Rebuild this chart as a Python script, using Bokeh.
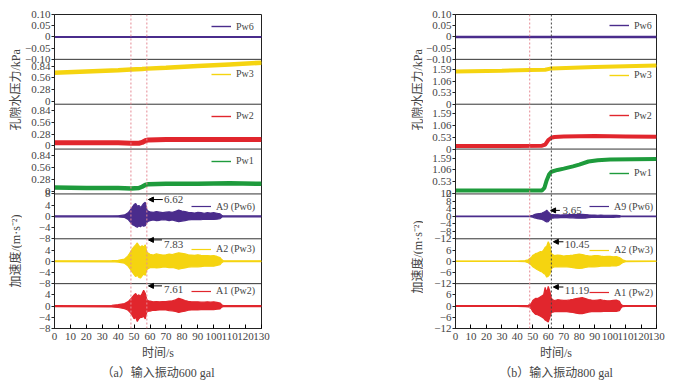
import math
from bokeh.plotting import figure
from bokeh.models import Range1d, FixedTicker, Span, Legend, LegendItem, Arrow, NormalHead, Label, Title
from bokeh.layouts import row
from bokeh.embed import file_html
from bokeh.resources import INLINE

SERIF = "Liberation Serif"
MIXED = "Liberation Serif, Noto Sans CJK SC"

# ---------------- data ----------------
X_TICKS = list(range(0, 131, 10))

# (a) 600 gal : pore water pressure (kPa)
a_pw6_t = [0, 40, 80, 130]
a_pw6_v = [0.0, 0.0, 0.0, 0.0]
a_pw3_t = [0, 20, 40, 48, 55, 58, 70, 90, 110, 130]
a_pw3_v = [0.68, 0.71, 0.74, 0.76, 0.77, 0.78, 0.80, 0.84, 0.88, 0.92]
a_pw2_t = [0, 20, 40, 48, 53, 55, 57, 59, 70, 90, 110, 130]
a_pw2_v = [0.07, 0.07, 0.07, 0.06, 0.06, 0.08, 0.12, 0.14, 0.15, 0.15, 0.15, 0.15]
a_pw1_t = [0, 20, 40, 48, 53, 55, 57, 59, 70, 90, 110, 130]
a_pw1_v = [0.09, 0.08, 0.08, 0.07, 0.08, 0.11, 0.15, 0.17, 0.18, 0.18, 0.19, 0.18]

# (a) 600 gal : acceleration envelopes (m/s^2)
a_acc_t = [0, 36, 40, 44, 46, 47, 48, 49, 50, 51, 52, 53, 54, 55, 56, 57, 58, 59, 60,
           62, 64, 66, 68, 70, 72, 74, 76, 78, 80, 82, 84, 86, 88, 90, 92, 94, 96, 98, 100, 102, 104,
           105, 106, 108, 130]
a_a9_up = [0.15, 0.15, 0.2, 0.5, 1.2, 1.8, 2.6, 3.4, 4.2, 4.6, 3.6, 3.9, 3.2, 3.8, 4.6, 5.0, 2.4, 1.8, 1.6,
           1.4, 1.7, 1.5, 1.3, 1.5, 1.6, 1.4, 1.8, 2.2, 1.9, 1.7, 1.4, 1.3, 1.2, 1.4, 1.3, 1.1, 1.3, 1.2, 1.3, 1.1, 0.9,
           0.4, 0.15, 0.15, 0.15]
a_a9_lo = [-0.15, -0.15, -0.2, -0.4, -1.0, -1.6, -2.3, -3.0, -3.2, -3.6, -3.9, -3.4, -3.7, -3.2, -3.5, -3.3, -2.2, -1.7, -1.5,
           -1.3, -1.5, -1.4, -1.2, -1.3, -1.5, -1.3, -1.6, -1.9, -1.7, -1.5, -1.3, -1.2, -1.1, -1.2, -1.2, -1.0, -1.1, -1.1, -1.1, -1.0, -0.8,
           -0.3, -0.15, -0.15, -0.15]
a_a2_up = [0.15, 0.2, 0.3, 0.8, 1.8, 2.6, 3.5, 4.5, 5.2, 5.8, 6.5, 5.5, 5.0, 5.5, 5.0, 5.8, 3.2, 2.8, 2.5,
           2.2, 2.6, 2.4, 2.2, 2.3, 2.5, 2.4, 2.7, 3.0, 2.8, 2.6, 2.3, 2.2, 2.1, 2.3, 2.1, 2.0, 2.0, 1.9, 2.0, 1.7, 1.3,
           0.6, 0.2, 0.15, 0.15]
a_a2_lo = [-0.15, -0.2, -0.3, -0.7, -1.6, -2.4, -3.2, -4.0, -4.8, -5.5, -5.0, -5.8, -6.0, -5.2, -4.6, -5.0, -3.0, -2.6, -2.3,
           -2.2, -2.4, -2.3, -2.1, -2.1, -2.3, -2.2, -2.5, -2.8, -2.6, -2.4, -2.1, -2.0, -2.0, -2.0, -1.9, -1.8, -1.8, -1.8, -1.8, -1.5, -1.2,
           -0.5, -0.2, -0.15, -0.15]
a_a1_up = [0.2, 0.3, 0.5, 0.9, 1.5, 2.0, 2.6, 3.3, 4.0, 4.5, 3.6, 4.0, 3.5, 4.5, 5.6, 4.6, 2.2, 1.9, 1.8,
           1.5, 1.6, 1.5, 1.6, 1.6, 1.8, 1.9, 2.2, 2.8, 2.4, 2.0, 1.7, 1.5, 1.5, 1.5, 1.4, 1.4, 1.5, 1.4, 1.5, 1.3, 1.1,
           0.5, 0.2, 0.2, 0.2]
a_a1_lo = [-0.2, -0.3, -0.5, -0.9, -1.4, -2.0, -2.6, -3.5, -4.5, -4.0, -5.5, -4.5, -4.0, -4.0, -3.6, -4.6, -2.1, -1.8, -1.8,
           -1.5, -1.5, -1.4, -1.4, -1.4, -1.6, -1.7, -1.9, -2.3, -2.0, -1.8, -1.5, -1.4, -1.4, -1.4, -1.3, -1.3, -1.3, -1.2, -1.3, -1.1, -1.0,
           -0.4, -0.2, -0.2, -0.2]
a_vlines = [48, 58]
a_peaks = ["6.62", "7.83", "7.61"]

# (b) 800 gal : pore water pressure (kPa)
b_pw6_t = [0, 40, 80, 130]
b_pw6_v = [0.0, 0.0, 0.0, 0.0]
b_pw3_t = [0, 30, 48, 58, 62, 90, 130]
b_pw3_v = [1.52, 1.55, 1.59, 1.60, 1.66, 1.72, 1.79]
b_pw2_t = [0, 40, 56, 58, 60, 62, 64, 70, 90, 110, 130]
b_pw2_v = [0.14, 0.14, 0.15, 0.20, 0.40, 0.50, 0.53, 0.55, 0.58, 0.56, 0.54]
b_pw1_t = [0, 40, 56, 57.5, 59, 60.5, 62, 66, 70, 76, 80, 86, 92, 100, 130]
b_pw1_v = [0.13, 0.13, 0.14, 0.25, 0.60, 0.85, 0.98, 1.06, 1.12, 1.22, 1.30, 1.44, 1.50, 1.53, 1.55]

# (b) 800 gal : acceleration envelopes (m/s^2)
b_acc_t = [0, 40, 45, 47, 48, 49, 50, 51, 52, 53, 54, 55, 56, 57, 58, 59, 60, 61, 62, 63, 64,
           66, 68, 70, 72, 74, 76, 78, 80, 82, 84, 86, 88, 90, 92, 94, 96, 98, 100, 102, 104, 106,
           107, 108, 110, 130]
b_a9_up = [0.1, 0.1, 0.1, 0.15, 0.2, 0.4, 0.6, 0.9, 1.2, 1.4, 1.5, 1.6, 1.8, 2.2, 2.5, 3.3, 2.4, 1.6, 1.0, 0.9, 0.8,
           0.8, 0.7, 0.8, 0.8, 0.9, 0.9, 1.0, 1.2, 1.1, 1.0, 0.8, 0.7, 0.7, 0.6, 0.7, 0.6, 0.6, 0.6, 0.5, 0.5, 0.4,
           0.2, 0.1, 0.1, 0.1]
b_a9_lo = [-0.1, -0.1, -0.1, -0.15, -0.2, -0.3, -0.5, -0.8, -1.0, -1.2, -1.4, -1.5, -1.6, -2.0, -2.6, -3.0, -2.8, -1.8, -1.0, -0.9, -0.8,
           -0.8, -0.7, -0.7, -0.7, -0.8, -0.8, -0.9, -1.0, -1.0, -0.9, -0.7, -0.6, -0.6, -0.6, -0.6, -0.5, -0.5, -0.5, -0.5, -0.4, -0.4,
           -0.2, -0.1, -0.1, -0.1]
b_a2_up = [0.1, 0.1, 0.3, 0.8, 1.4, 2.0, 3.2, 3.6, 4.2, 4.4, 4.8, 5.2, 5.0, 6.0, 7.5, 8.0, 10.4, 8.5, 4.2, 3.4, 3.0,
           3.3, 3.1, 2.8, 3.0, 3.1, 3.3, 3.6, 3.8, 3.6, 3.2, 2.9, 2.8, 3.0, 3.0, 2.7, 2.5, 2.6, 2.6, 2.4, 2.5, 2.0,
           1.4, 0.8, 0.2, 0.1]
b_a2_lo = [-0.1, -0.1, -0.3, -0.8, -1.3, -2.0, -3.0, -3.5, -4.0, -4.6, -5.0, -5.5, -5.8, -6.5, -7.0, -8.5, -8.0, -7.0, -4.0, -3.3, -3.0,
           -3.1, -3.0, -3.0, -3.0, -3.2, -3.4, -3.7, -3.9, -3.7, -3.3, -3.0, -2.9, -3.0, -2.9, -2.7, -2.6, -2.6, -2.6, -2.4, -2.5, -2.0,
           -1.4, -0.8, -0.2, -0.1]
b_a1_up = [0.2, 0.2, 0.3, 0.4, 0.8, 1.4, 3.0, 3.6, 4.2, 4.0, 4.5, 5.0, 5.5, 6.0, 10.0, 7.0, 10.5, 8.0, 4.0, 3.4, 3.0,
           3.4, 3.2, 3.0, 3.1, 3.3, 3.6, 4.0, 4.3, 4.5, 4.0, 3.5, 3.2, 3.0, 3.2, 3.4, 3.0, 2.8, 2.8, 3.0, 3.2, 2.5,
           1.0, 0.3, 0.2, 0.2]
b_a1_lo = [-0.2, -0.2, -0.3, -0.4, -0.8, -1.4, -3.0, -3.8, -4.5, -4.6, -5.0, -5.5, -6.0, -6.5, -7.5, -8.0, -8.5, -6.0, -3.5, -3.2, -3.0,
           -3.0, -3.0, -3.0, -3.0, -3.2, -3.4, -3.8, -4.0, -4.0, -3.7, -3.2, -3.0, -3.0, -3.0, -3.0, -2.9, -2.8, -2.8, -2.8, -2.8, -2.5,
           -1.0, -0.3, -0.2, -0.2]
b_vlines = [48, 62]
b_peaks = ["3.65", "10.45", "11.19"]

# axis tick values / labels
PW6_TICKS = [0.10, 0.05, 0.0, -0.05, -0.10]
PW6_LABELS = ["0.10", "0.05", "0", "\u22120.05", "\u22120.10"]
A_PW_TICKS = [0.84, 0.56, 0.28, 0.0]
A_PW_LABELS = ["0.84", "0.56", "0.28", "0"]
B_PW_TICKS = [1.59, 1.06, 0.53, 0.0]
B_PW_LABELS = ["1.59", "1.06", "0.53", "0"]
A_ACC_TOP_TICKS = [8, 4, 0, -4, -8]
A_ACC_TOP_LABELS = ["8", "4", "0", "\u22124", "\u22128"]
A_ACC_TICKS = [4, 0, -4, -8]
A_ACC_LABELS = ["4", "0", "\u22124", "\u22128"]
B_ACC_TOP_TICKS = [12, 8, 4, 0, -4, -8, -12]
B_ACC_TOP_LABELS = ["12", "8", "4", "0", "\u22124", "\u22128", "\u221212"]
B_ACC_TICKS = [6, 0, -6, -12]
B_ACC_LABELS = ["6", "0", "\u22126", "\u221212"]

Y_TITLES = ["孔隙水压力/kPa", "加速度/(m·s⁻²)"]

for arrs in [(a_acc_t, a_a9_up, a_a9_lo, a_a2_up, a_a2_lo, a_a1_up, a_a1_lo),
             (b_acc_t, b_a9_up, b_a9_lo, b_a2_up, b_a2_lo, b_a1_up, b_a1_lo)]:
    for a in arrs:
        assert len(a) == len(arrs[0]), (len(a), len(arrs[0]))

PURPLE = "#4a2c8c"
YELLOW = "#f5d410"
RED = "#e1262d"
GREEN = "#1e9b3c"

FIG_H = 384
TOP_B = 14
FRAME_H = 314
BOT_B = FIG_H - TOP_B - FRAME_H


def title_fig(width, xc, y_starts):
    """Narrow strip holding the rotated y-axis titles (anchored at the start of each text).
    Its frame is aligned with the neighbouring plot frames, so the y range is chosen such that
    y = FIG_H - (pixel row from the page top)."""
    t = figure(width=width, height=FIG_H, x_range=Range1d(0, width),
               y_range=Range1d(BOT_B, FIG_H - TOP_B),
               output_backend="svg", toolbar_location=None,
               min_border_left=0, min_border_right=0, min_border_top=TOP_B, min_border_bottom=BOT_B)
    t.axis.visible = False
    t.grid.visible = False
    t.outline_line_color = None
    for txt, ys in zip(Y_TITLES, y_starts):
        t.add_layout(Label(x=xc, y=ys, text=txt, angle=math.pi / 2, text_font=MIXED,
                           text_font_size="12px", text_align="left", text_baseline="middle"))
    return t


def build(panels, vlines, vcolors, arrows, caption, width, bl, br):
    n = len(panels)
    ranges = {}
    for i, pan in enumerate(panels):
        k = n - 1 - i
        s = pan["hi"] - pan["lo"]
        ranges[pan["name"]] = Range1d(start=pan["lo"] - k * s, end=pan["hi"] + (n - 1 - k) * s)
    p = figure(width=width, height=FIG_H, x_range=Range1d(0, 130), y_range=Range1d(0, n),
               extra_y_ranges=ranges, output_backend="svg", toolbar_location=None,
               min_border_left=bl, min_border_right=br, min_border_top=TOP_B,
               min_border_bottom=BOT_B)
    p.xgrid.visible = False
    p.ygrid.visible = False
    p.outline_line_color = "#222222"
    p.outline_line_width = 1
    p.background_fill_color = "white"

    ticks, over = [], {}
    for i, pan in enumerate(panels):
        k = n - 1 - i
        s = pan["hi"] - pan["lo"]
        for tv, tl in zip(pan["ticks"], pan["labels"]):
            pos = k + (tv - pan["lo"]) / s
            ticks.append(pos)
            over[pos] = tl
        nm = pan["name"]
        if pan["kind"] == "line":
            thin = p.line(pan["t"], pan["v"], line_width=1.4, color=pan["color"], y_range_name=nm)
            p.line(pan["t"], pan["v"], line_width=pan["lw"], color=pan["color"], y_range_name=nm)
            leg_r = thin
        else:
            p.varea(x=pan["t"], y1=pan["lo_v"], y2=pan["up_v"], fill_color=pan["color"], y_range_name=nm)
            leg_r = p.line(pan["t"], pan["up_v"], line_width=1.2, color=pan["color"], y_range_name=nm)
            p.line(pan["t"], pan["lo_v"], line_width=1.2, color=pan["color"], y_range_name=nm)
        top = (k + 1) * FRAME_H / n
        leg = Legend(items=[LegendItem(label=pan["legend"], renderers=[leg_r])],
                     location=(pan["lx"], top - pan["inset"] - 7),
                     padding=0, spacing=0, margin=0, border_line_color=None,
                     background_fill_alpha=0, glyph_width=20, glyph_height=12,
                     label_height=12, label_standoff=5, label_text_font=SERIF,
                     label_text_font_size="10px", label_text_baseline="middle")
        p.add_layout(leg)

    p.yaxis.ticker = FixedTicker(ticks=ticks, minor_ticks=[])
    p.yaxis.major_label_overrides = over
    p.yaxis.major_label_text_font = SERIF
    p.yaxis.major_label_text_font_size = "11px"
    p.yaxis.major_tick_in = 0
    p.yaxis.major_tick_out = 3
    p.yaxis.major_label_standoff = 1
    p.yaxis.axis_line_color = "#222222"
    p.yaxis.major_tick_line_color = "#222222"

    p.xaxis.ticker = FixedTicker(ticks=X_TICKS, minor_ticks=[])
    p.xaxis.major_label_text_font = SERIF
    p.xaxis.major_label_text_font_size = "11px"
    p.xaxis.major_tick_in = 4
    p.xaxis.major_tick_out = 0
    p.xaxis.major_label_standoff = 4
    p.xaxis.axis_label = "时间/s"
    p.xaxis.axis_label_text_font = MIXED
    p.xaxis.axis_label_text_font_size = "12px"
    p.xaxis.axis_label_text_font_style = "normal"
    p.xaxis.axis_label_standoff = 3
    p.xaxis.axis_line_color = "#222222"

    for k in range(1, n):
        p.add_layout(Span(location=k, dimension="width", line_color="#333333", line_width=1))
    for loc, c in zip(vlines, vcolors):
        p.add_layout(Span(location=loc, dimension="height", line_color=c, line_width=1, line_dash="2 2"))

    for (nm, xs, xe, ya, xt, yt, txt) in arrows:
        p.add_layout(Arrow(end=NormalHead(size=5, fill_color="black", line_color="black"),
                           x_start=xs, y_start=ya, x_end=xe, y_end=ya, line_width=1,
                           line_color="black", y_range_name=nm))
        p.add_layout(Label(x=xt, y=yt, text=txt, y_range_name=nm, text_font=SERIF,
                           text_font_size="11px", text_baseline="middle", text_align="left"))

    p.add_layout(Title(text=caption, align="center", text_font=MIXED, text_font_size="12px",
                       text_font_style="normal", standoff=2), "below")
    return p


def pw(name, lo, hi, ticks, labels, t, v, color, lw, legend, lx, inset):
    return dict(name=name, lo=lo, hi=hi, ticks=ticks, labels=labels, kind="line", t=t, v=v,
                color=color, lw=lw, legend=legend, lx=lx, inset=inset)


def acc(name, lo, hi, ticks, labels, t, up, low, color, legend, lx, inset):
    return dict(name=name, lo=lo, hi=hi, ticks=ticks, labels=labels, kind="band", t=t, up_v=up,
                lo_v=low, color=color, legend=legend, lx=lx, inset=inset)


panels_a = [
    pw("pw6", -0.10, 0.10, PW6_TICKS, PW6_LABELS, a_pw6_t, a_pw6_v, PURPLE, 2, "Pw6", 157, 11),
    pw("pw3", -0.065, 1.0, A_PW_TICKS, A_PW_LABELS, a_pw3_t, a_pw3_v, YELLOW, 4.5, "Pw3", 157, 14),
    pw("pw2", -0.08, 1.0, A_PW_TICKS, A_PW_LABELS, a_pw2_t, a_pw2_v, RED, 5, "Pw2", 157, 11),
    pw("pw1", -0.06, 1.0, A_PW_TICKS, A_PW_LABELS, a_pw1_t, a_pw1_v, GREEN, 4.5, "Pw1", 157, 11),
    acc("a9", -8, 8, A_ACC_TOP_TICKS, A_ACC_TOP_LABELS, a_acc_t, a_a9_up, a_a9_lo, PURPLE, "A9 (Pw6)", 137, 12),
    acc("a2", -8, 8, A_ACC_TICKS, A_ACC_LABELS, a_acc_t, a_a2_up, a_a2_lo, YELLOW, "A2 (Pw3)", 137, 9.6),
    acc("a1", -8, 8, A_ACC_TICKS, A_ACC_LABELS, a_acc_t, a_a1_up, a_a1_lo, RED, "A1 (Pw2)", 137, 6.7),
]
arrows_a = [
    ("a9", 68.0, 59.0, 6.0, 68.8, 6.0, a_peaks[0]),
    ("a2", 67.5, 59.0, 7.6, 68.8, 6.1, a_peaks[1]),
    ("a1", 67.5, 59.0, 7.2, 68.8, 5.9, a_peaks[2]),
]
panels_b = [
    pw("pw6", -0.10, 0.10, PW6_TICKS, PW6_LABELS, b_pw6_t, b_pw6_v, PURPLE, 2.5, "Pw6", 154, 10.3),
    pw("pw3", 0.0, 2.08, B_PW_TICKS, B_PW_LABELS, b_pw3_t, b_pw3_v, YELLOW, 4, "Pw3", 154, 15),
    pw("pw2", 0.0, 1.98, B_PW_TICKS, B_PW_LABELS, b_pw2_t, b_pw2_v, RED, 4, "Pw2", 154, 10.7),
    pw("pw1", -0.02, 2.0, B_PW_TICKS, B_PW_LABELS, b_pw1_t, b_pw1_v, GREEN, 4, "Pw1", 154, 23),
    acc("a9", -12, 12, B_ACC_TOP_TICKS, B_ACC_TOP_LABELS, b_acc_t, b_a9_up, b_a9_lo, PURPLE, "A9 (Pw6)", 134, 12),
    acc("a2", -12, 12, B_ACC_TICKS, B_ACC_LABELS, b_acc_t, b_a2_up, b_a2_lo, YELLOW, "A2 (Pw3)", 134, 10.6),
    acc("a1", -12, 12, B_ACC_TICKS, B_ACC_LABELS, b_acc_t, b_a1_up, b_a1_lo, RED, "A1 (Pw2)", 134, 8),
]
arrows_b = [
    ("a9", 67.5, 61.5, 3.2, 69.2, 3.2, b_peaks[0]),
    ("a2", 69.8, 63.3, 10.4, 70.7, 9.2, b_peaks[1]),
    ("a1", 69.8, 63.3, 10.2, 70.7, 8.5, b_peaks[2]),
]

# page layout: [titles a: 0-22] [fig a: 22-403] [titles b: 403-423] [fig b: 423-665]
# title strips: text start (bottom end) given as FIG_H - pixel row from the page top
ta = title_fig(22, 15, [FIG_H - 130, FIG_H - 287])
p1 = build(panels_a, a_vlines, ["#e58a94", "#e58a94"], arrows_a, "（a）输入振动600 gal", 381, 32, 142)
tb = title_fig(20, 14, [FIG_H - 130, FIG_H - 293])
p2 = build(panels_b, b_vlines, ["#e58a94", "#444444"], arrows_b, "（b）输入振动800 gal", 242, 30, 9)

layout = row(ta, p1, tb, p2)
open("out.html", "w").write(file_html(layout, INLINE))
